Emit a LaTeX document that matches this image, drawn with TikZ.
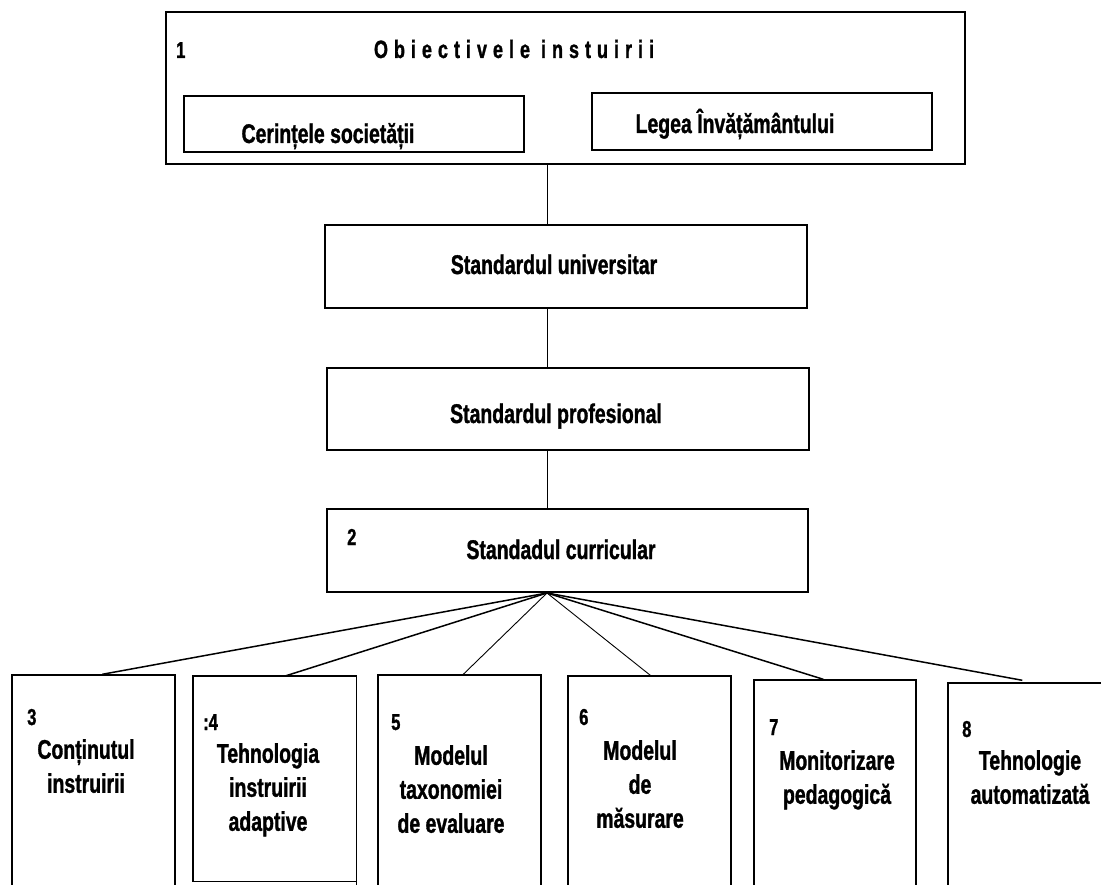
\documentclass[tikz,border=0pt]{standalone}
\usepackage{fontspec}
\setmainfont{Liberation Sans}[FakeStretch=0.72, BoldFeatures={FakeBold=1.2}]
\newfontfamily\spacedfont{Liberation Sans}[FakeStretch=0.72, LetterSpace=24, BoldFeatures={FakeBold=1.2}]
\tikzset{
  box/.style= {draw, line width=1.4pt, inner sep=0},
  lbl/.style= {font=\fontsize{27}{34}\selectfont\bfseries, align=center, inner sep=0, anchor=base},
  mlbl/.style= {lbl, anchor=north},
  num/.style= {font=\fontsize{23}{25}\selectfont\bfseries, inner sep=0, anchor=base west},
  link/.style= {line width=0.9pt},
  fan/.style= {line width=1.5pt},
  thinfan/.style= {line width=0.9pt},
}

\begin{document}
\begin{tikzpicture}[x=1pt, y=-1pt]
  \clip (0,0) rectangle (1101,885) ;

  % top block
  \node [box, minimum width=799, minimum height=152] (obj) at (565.5,88) {} ;
  \node [box, minimum width=340, minimum height=56] (soc) at (354,124) {} ;
  \node [box, minimum width=340, minimum height=57] (lege) at (762,121.5) {} ;
  \node [num] (n1) at (176,58) {1} ;
  \node [lbl, font=\fontsize{25}{30}\spacedfont\bfseries] (tobj) at (514,58) {Obiectivele instuirii} ;
  \node [lbl] (tsoc) at (328,143) {Cerințele societății} ;
  \node [lbl] (tlege) at (735,133) {Legea Învățământului} ;

  % standards
  \node [box, minimum width=482, minimum height=83] (univ) at (566,266.5) {} ;
  \node [box, minimum width=482, minimum height=82] (prof) at (568,409) {} ;
  \node [box, minimum width=481, minimum height=83] (curr) at (567.5,550.5) {} ;
  \node [lbl] (tuniv) at (554,274) {Standardul universitar} ;
  \node [lbl] (tprof) at (556,423) {Standardul profesional} ;
  \node [num] (n2) at (347,545) {2} ;
  \node [lbl] (tcurr) at (561,559) {Standadul curricular} ;

  \coordinate (hub) at (547,593) ;
  \draw [link] (hub |- obj.south) -- (hub |- univ.north) ;
  \draw [link] (hub |- univ.south) -- (hub |- prof.north) ;
  \draw [link] (hub |- prof.south) -- (hub |- curr.north) ;

  % bottom row
  \node [box, minimum width=163, minimum height=215] (b3) at (93.5,782.5) {} ;
  \node [inner sep=0, minimum width=163, minimum height=205] (b4) at (274.5,778.5) {} ;
  \draw [line width=1.4pt] ([yshift=-11pt]b4.south east) -- (b4.north east) -- (b4.north west) -- (b4.south west) -- (b4.south east) ;
  \node [box, minimum width=163, minimum height=215] (b5) at (459.5,782.5) {} ;
  \node [box, minimum width=163, minimum height=214] (b6) at (649.5,783) {} ;
  \node [box, minimum width=162, minimum height=210] (b7) at (835,785) {} ;
  \node [box, minimum width=163, minimum height=207] (b8) at (1029.5,786.5) {} ;

  \node [num] (n3) at (27,725) {3} ;
  \node [mlbl] (t3) at (86,739) {Conținutul\\instruirii} ;
  \node [num] (n4) at (203,730) {:4} ;
  \node [mlbl] (t4) at (268,743) {Tehnologia\\instruirii\\adaptive} ;
  \node [num] (n5) at (391,730) {5} ;
  \node [mlbl] (t5) at (451,745) {Modelul\\taxonomiei\\de evaluare} ;
  \node [num] (n6) at (579,725) {6} ;
  \node [mlbl] (t6) at (640,740) {Modelul\\de\\măsurare} ;
  \node [num] (n7) at (769,735) {7} ;
  \node [mlbl] (t7) at (837,750) {Monitorizare\\pedagogică} ;
  \node [num] (n8) at (962,737) {8} ;
  \node [mlbl] (t8) at (1030,750) {Tehnologie\\automatizată} ;

  \draw [fan] (hub) -- ([xshift=91pt]b3.north west) ;
  \draw [fan] (hub) -- ([xshift=93pt]b4.north west) ;
  \draw [thinfan] (hub) -- ([xshift=86pt]b5.north west) ;
  \draw [thinfan] (hub) -- ([xshift=83pt]b6.north west) ;
  \draw [fan] (hub) -- ([xshift=70pt]b7.north west) ;
  \draw [fan] (hub) -- ([xshift=75pt,yshift=2pt]b8.north west) ;
\end{tikzpicture}
\end{document}
